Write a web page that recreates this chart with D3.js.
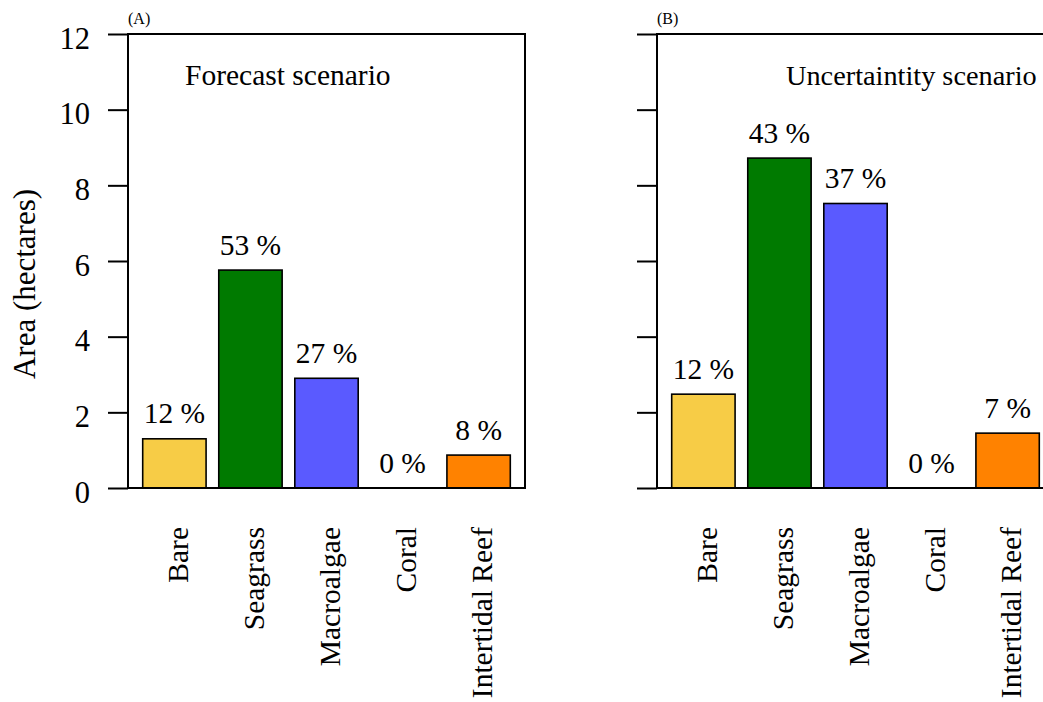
<!DOCTYPE html>
<html>
<head>
<meta charset="utf-8">
<script src="https://cdn.jsdelivr.net/npm/d3@7/dist/d3.min.js"></script>
<style>
  html, body { margin: 0; padding: 0; background: #fff; }
  svg { display: block; }
</style>
</head>
<body>
<svg id="chart" width="1043" height="702"></svg>
<script>
// Habitat classes shown on the x axis
const categories = ["Bare", "Seagrass", "Macroalgae", "Coral", "Intertidal Reef"];

// Area (hectares) per habitat, forecast scenario
const areaForecast = [1.30, 5.76, 2.90, 0.0, 0.87];
// Share of total area (%), forecast scenario
const pctForecast = [12, 53, 27, 0, 8];

// Area (hectares) per habitat, uncertainty scenario
const areaUncertainty = [2.48, 8.72, 7.52, 0.0, 1.45];
// Share of total area (%), uncertainty scenario
const pctUncertainty = [12, 43, 37, 0, 7];

// Y axis ticks
const yTicks = [0, 2, 4, 6, 8, 10, 12];

const barColors = ["#F7CC46", "#007A00", "#5A5AFF", "#FFFFFF", "#FF8200"];

const SERIF = "Liberation Serif";
const FONT = 29.5;

const svg = d3.select("#chart");

const plotTop = 34, plotBottom = 488, panelW = 397;

const y = d3.scaleLinear().domain([0, 12]).range([plotBottom, plotTop]);

function label(sel, size) {
  return sel.style("font-family", SERIF).style("font-size", size + "px").attr("fill", "#000");
}

// y axis title
label(svg.append("text"), 31)
  .attr("transform", `translate(35,284) rotate(-90)`)
  .attr("text-anchor", "middle")
  .text("Area (hectares)");

function panel(left, values, pcts, tag, title, titleX, titleSize, showTickLabels) {
  const g = svg.append("g");

  const x = d3.scaleBand()
    .domain(categories)
    .range([left, left + panelW])
    .paddingInner(1 / 6)
    .paddingOuter(0.232 / 1.2);

  // y axis with long outward ticks
  const axis = d3.axisLeft(y)
    .tickValues(yTicks)
    .tickSize(20)
    .tickPadding(0)
    .tickFormat(showTickLabels ? d3.format("d") : () => "");
  const ag = g.append("g").attr("transform", `translate(${left},0)`).call(axis);
  ag.select(".domain").remove();
  ag.selectAll(".tick line").attr("stroke", "#000").attr("stroke-width", 2);
  label(ag.selectAll(".tick text"), 30.5)
    .attr("x", -38)
    .attr("dy", null)
    .attr("y", 14);

  // bars
  g.selectAll("rect.bar")
    .data(categories)
    .join("rect")
    .attr("class", "bar")
    .attr("x", d => x(d))
    .attr("width", x.bandwidth())
    .attr("y", (d, i) => y(values[i]))
    .attr("height", (d, i) => y(0) - y(values[i]))
    .attr("fill", (d, i) => barColors[i])
    .attr("stroke", "#000")
    .attr("stroke-width", 1.6);

  // percentage labels above bars
  label(g.selectAll("text.pct").data(categories).join("text"), FONT)
    .attr("class", "pct")
    .attr("x", d => x(d) + x.bandwidth() / 2)
    .attr("y", (d, i) => y(values[i]) - 15.5)
    .attr("text-anchor", "middle")
    .text((d, i) => `${pcts[i]} %`);

  // rotated category labels
  label(g.selectAll("text.cat").data(categories).join("text"), FONT)
    .attr("class", "cat")
    .attr("transform", d => `translate(${x(d) + x.bandwidth() / 2 + 13.5},527) rotate(-90)`)
    .attr("text-anchor", "end")
    .text(d => d);

  // plot frame
  g.append("rect")
    .attr("x", left).attr("y", plotTop)
    .attr("width", panelW).attr("height", plotBottom - plotTop)
    .attr("fill", "none")
    .attr("stroke", "#000")
    .attr("stroke-width", 2);

  // panel tag
  label(g.append("text"), 16)
    .attr("x", left).attr("y", 24)
    .text(tag);

  // scenario title
  label(g.append("text"), titleSize)
    .attr("x", titleX).attr("y", 85)
    .text(title);
}

panel(128, areaForecast, pctForecast, "(A)", "Forecast scenario", 185, FONT, true);
panel(657, areaUncertainty, pctUncertainty, "(B)", "Uncertaintity scenario", 786, 28.3, false);
</script>
</body>
</html>
